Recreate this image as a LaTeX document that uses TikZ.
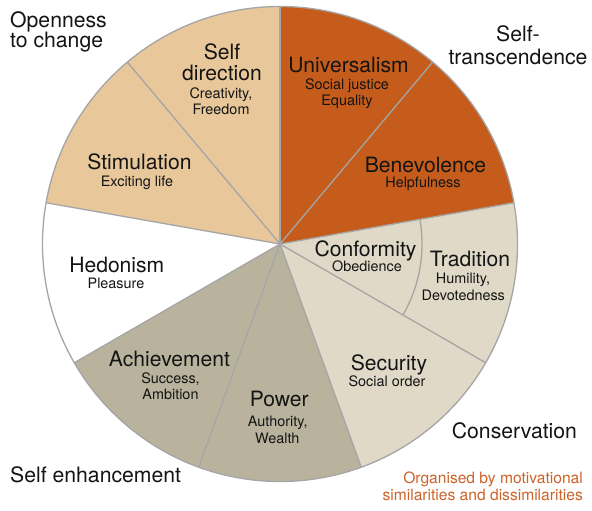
\documentclass[tikz,border=0pt]{standalone}
\usepackage{fontspec}
\setmainfont{TeX Gyre Heros}
\definecolor{openc}{RGB}{232,199,155}
\definecolor{transc}{RGB}{197,92,28}
\definecolor{consc}{RGB}{224,217,199}
\definecolor{enhc}{RGB}{185,179,158}
\definecolor{edgec}{RGB}{165,165,165}
\definecolor{notec}{RGB}{204,98,40}
\definecolor{txt}{RGB}{20,20,20}
\begin{document}
\begin{tikzpicture}[x=1pt,y=1pt,
  big/.style={font=\fontsize{21.1}{24}\selectfont, text=txt, inner sep=0pt, anchor=base},
  small/.style={font=\fontsize{14.4}{16}\selectfont, text=txt, inner sep=0pt, anchor=base},
  region/.style={font=\fontsize{21.2}{24}\selectfont, text=txt, inner sep=0pt},
  note/.style={font=\fontsize{15.6}{17}\selectfont, text=notec, inner sep=0pt, anchor=base east},
  edgeline/.style={draw=edgec, line width=1.3pt}]
\useasboundingbox (0,0) rectangle (592,511);
\coordinate (c) at (280,267);
\def\R{237.5}
% sectors
\fill[openc]  (c) -- ++(90:\R)  arc[start angle=90,  end angle=170, radius=\R] -- cycle;
\fill[white]  (c) -- ++(170:\R) arc[start angle=170, end angle=210, radius=\R] -- cycle;
\fill[enhc]   (c) -- ++(210:\R) arc[start angle=210, end angle=290, radius=\R] -- cycle;
\fill[consc]  (c) -- ++(290:\R) arc[start angle=290, end angle=370, radius=\R] -- cycle;
\fill[transc] (c) -- ++(10:\R)  arc[start angle=10,  end angle=90,  radius=\R] -- cycle;
% boundaries
\foreach \a in {10,50,90,130,170,210,250,290,330}{
  \path (c) ++(\a:\R) coordinate (r\a);
  \draw[edgeline] (c) -- (r\a);
}
\path (c) ++(-30:142) coordinate (ci1);
\draw[edgeline] (ci1) arc[start angle=-30, end angle=10, radius=142];
\draw[edgeline] (c) circle[radius=\R];
% labels
\node[big]   (sd1) at (222,451)   {Self};
\node[big]   (sd2) at (222,430)   {direction};
\node[small] (sd3) at (221,412)   {Creativity,};
\node[small] (sd4) at (221,396)   {Freedom};
\node[big]   (un1) at (348.5,438.3) {Universalism};
\node[small] (un2) at (347,421.7) {Social justice};
\node[small] (un3) at (347,405)   {Equality};
\node[big]   (st1) at (139.5,341) {Stimulation};
\node[small] (st2) at (137,324)   {Exciting life};
\node[big]   (be1) at (425.5,338.7) {Benevolence};
\node[small] (be2) at (423,323.3) {Helpfulness};
\node[big]   (he1) at (116.8,238.3) {Hedonism};
\node[small] (he2) at (116,222.7) {Pleasure};
\node[big]   (co1) at (365.5,254.3) {Conformity};
\node[small] (co2) at (367,239.3) {Obedience};
\node[big]   (tr1) at (470,244.3) {Tradition};
\node[small] (tr2) at (463,227)   {Humility,};
\node[small] (tr3) at (463.3,210.3) {Devotedness};
\node[big]   (se1) at (389,140)   {Security};
\node[small] (se2) at (387,124.3) {Social order};
\node[big]   (ac1) at (169.5,144.3) {Achievement};
\node[small] (ac2) at (170.5,127.7) {Success,};
\node[small] (ac3) at (170.5,111) {Ambition};
\node[big]   (po1) at (279.3,104.3) {Power};
\node[small] (po2) at (277.7,84.3) {Authority,};
\node[small] (po3) at (277.3,67.7) {Wealth};
% regions
\node[region, anchor=base west] (op1) at (10,483.3) {Openness};
\node[region, anchor=base west] (op2) at (10,463.3) {to change};
\node[region, anchor=base] (tc1) at (518,469.3) {Self-};
\node[region, anchor=base] (tc2) at (518,446) {transcendence};
\node[region, anchor=base west] (cons) at (451.7,72) {Conservation};
\node[region, anchor=base west] (enh) at (10,28) {Self enhancement};
\node[note] (n1) at (583,27)   {Organised by motivational};
\node[note] (n2) at (583,10.3) {similarities and dissimilarities};
\end{tikzpicture}
\end{document}
